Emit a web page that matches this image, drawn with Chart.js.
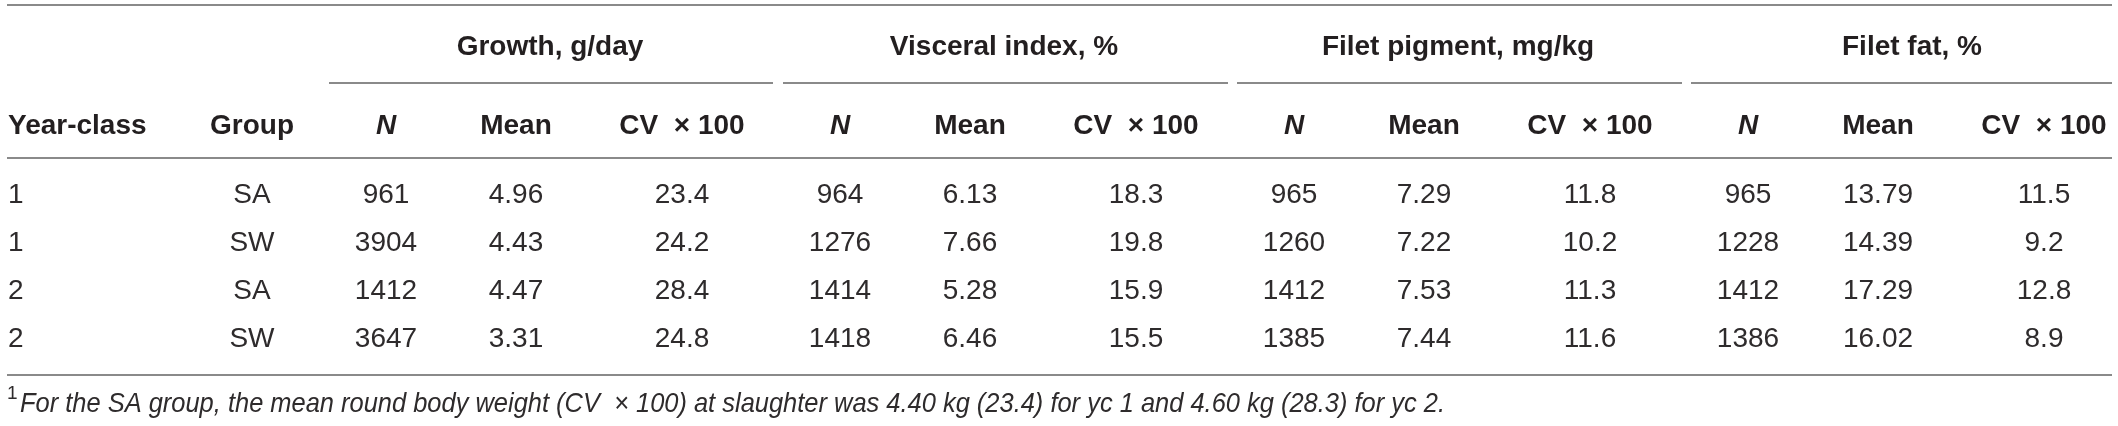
<!DOCTYPE html>
<html><head><meta charset="utf-8">
<script src="https://cdn.jsdelivr.net/npm/chart.js@4.4.1/dist/chart.umd.min.js"></script>
<style>html,body{margin:0;padding:0;background:#fff;overflow:hidden}canvas{display:block}</style>
</head><body>
<canvas id="c" width="2118" height="426"></canvas>
<script>
// ---- data ----
const yearClass = ['1', '1', '2', '2'];
const group = ['SA', 'SW', 'SA', 'SW'];
const groupTitles = ['Growth, g/day', 'Visceral index, %', 'Filet pigment, mg/kg', 'Filet fat, %'];
const subHeaders = ['N', 'Mean', 'CV  \u00d7 100'];
const growthN = [961, 3904, 1412, 3647];
const growthMean = [4.96, 4.43, 4.47, 3.31];
const growthCV = [23.4, 24.2, 28.4, 24.8];
const visceralN = [964, 1276, 1414, 1418];
const visceralMean = [6.13, 7.66, 5.28, 6.46];
const visceralCV = [18.3, 19.8, 15.9, 15.5];
const pigmentN = [965, 1260, 1412, 1385];
const pigmentMean = [7.29, 7.22, 7.53, 7.44];
const pigmentCV = [11.8, 10.2, 11.3, 11.6];
const fatN = [965, 1228, 1412, 1386];
const fatMean = [13.79, 14.39, 17.29, 16.02];
const fatCV = [11.5, 9.2, 12.8, 8.9];
const footnoteMark = '1';
const footnote = 'For the SA group, the mean round body weight (CV  \u00d7 100) at slaughter was 4.40 kg (23.4) for yc 1 and 4.60 kg (28.3) for yc 2.';

// ---- layout (positions / styles only) ----
const W = 2118, H = 426;
const COL_X = [8, 252, 386, 516, 682, 840, 970, 1136, 1294, 1424, 1590, 1748, 1878, 2044];
const GROUP_SPAN = [[329, 773], [783, 1228], [1237, 1682], [1691, 2112]];
const TITLE_OFFSET = 164;
const Y_TOP_RULE = 5, Y_TITLE = 47, Y_GROUP_RULE = 83, Y_HEAD = 126, Y_HEAD_RULE = 158, Y_BOTTOM_RULE = 375, Y_FOOT = 404;
const ROW_Y = [195, 243, 291, 339];
const TABLE_L = 7, TABLE_R = 2112;
const TEXT = '#231f20', TEXT_BODY = '#2e2b2c', RULE = '#8a8a8a';
const FF = '"Liberation Sans", Arial, Helvetica, sans-serif';
const F_BODY = '28px ' + FF, F_BOLD = 'bold 28px ' + FF, F_BOLDIT = 'italic bold 28px ' + FF;
const F_FOOT = 'italic 28px ' + FF, F_SUP = '19px ' + FF;
const FOOT_WIDTH = 1425;

// ---- build datasets ----
const datasets = [];
function textSet(xs, ys, texts, font, align, color, fitWidth) {
  datasets.push({
    data: xs.map((x, i) => ({x: x, y: ys[i]})),
    texts: texts, font: font, align: align || 'center', color: color || TEXT, fitWidth: fitWidth,
    pointRadius: 0, pointHoverRadius: 0, showLine: false
  });
}
function rule(x1, x2, y) {
  datasets.push({
    data: [{x: x1, y: y}, {x: x2, y: y}],
    showLine: true, borderColor: RULE, borderWidth: 2, pointRadius: 0, pointHoverRadius: 0, fill: false
  });
}
const fmt = (arr, d) => arr.map(v => v.toFixed(d));
const blocks = [
  [growthN, growthMean, growthCV],
  [visceralN, visceralMean, visceralCV],
  [pigmentN, pigmentMean, pigmentCV],
  [fatN, fatMean, fatCV]
];
const decimals = [0, 2, 1];

// rules
rule(TABLE_L, TABLE_R, Y_TOP_RULE);
GROUP_SPAN.forEach(s => rule(s[0], s[1], Y_GROUP_RULE));
rule(TABLE_L, TABLE_R, Y_HEAD_RULE);
rule(TABLE_L, TABLE_R, Y_BOTTOM_RULE);

// group titles
textSet(groupTitles.map((t, g) => COL_X[2 + g * 3] + TITLE_OFFSET), groupTitles.map(() => Y_TITLE), groupTitles, F_BOLD);
// column headers
textSet([COL_X[0]], [Y_HEAD], ['Year-class'], F_BOLD, 'left');
textSet([COL_X[1]], [Y_HEAD], ['Group'], F_BOLD);
blocks.forEach((b, g) => {
  textSet([COL_X[2 + g * 3]], [Y_HEAD], [subHeaders[0]], F_BOLDIT);
  textSet([COL_X[3 + g * 3], COL_X[4 + g * 3]], [Y_HEAD, Y_HEAD], [subHeaders[1], subHeaders[2]], F_BOLD);
});
// body cells
textSet(ROW_Y.map(() => COL_X[0]), ROW_Y, yearClass, F_BODY, 'left', TEXT_BODY);
textSet(ROW_Y.map(() => COL_X[1]), ROW_Y, group, F_BODY, 'center', TEXT_BODY);
blocks.forEach((b, g) => {
  b.forEach((col, k) => {
    textSet(ROW_Y.map(() => COL_X[2 + g * 3 + k]), ROW_Y, fmt(col, decimals[k]), F_BODY, 'center', TEXT_BODY);
  });
});
// footnote
textSet([7], [Y_FOOT - 10], [footnoteMark], F_SUP, 'left', TEXT_BODY);
textSet([20], [Y_FOOT], [footnote], F_FOOT, 'left', TEXT_BODY, FOOT_WIDTH);

const textPlugin = {
  id: 'cellText',
  afterDatasetsDraw(chart) {
    const ctx = chart.ctx;
    chart.data.datasets.forEach((ds, di) => {
      if (!ds.texts) return;
      const meta = chart.getDatasetMeta(di);
      ctx.save();
      ctx.font = ds.font;
      ctx.fillStyle = ds.color;
      ctx.textAlign = ds.align;
      ctx.textBaseline = 'middle';
      meta.data.forEach((el, i) => {
        const t = ds.texts[i];
        if (ds.fitWidth) {
          const w = ctx.measureText(t).width;
          const s = Math.min(1, ds.fitWidth / w);
          ctx.save();
          ctx.translate(el.x, el.y);
          ctx.scale(s, 1);
          ctx.fillText(t, 0, 0);
          ctx.restore();
        } else {
          ctx.fillText(t, el.x, el.y);
        }
      });
      ctx.restore();
    });
  }
};

new Chart(document.getElementById('c'), {
  type: 'scatter',
  data: {datasets: datasets},
  options: {
    responsive: false, animation: false, devicePixelRatio: 1, events: [],
    layout: {padding: 0},
    plugins: {legend: {display: false}, tooltip: {enabled: false}},
    scales: {
      x: {type: 'linear', display: false, min: 0, max: W},
      y: {type: 'linear', display: false, min: 0, max: H, reverse: true}
    }
  },
  plugins: [textPlugin]
});
</script>
</body></html>
